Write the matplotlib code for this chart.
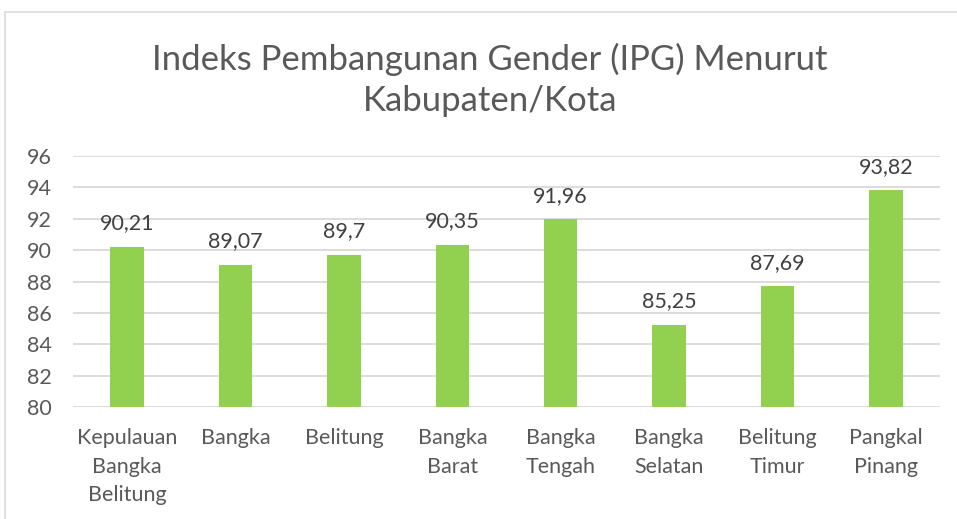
import matplotlib.pyplot as plt
from matplotlib.patches import Rectangle

# Data
categories = ["Kepulauan\nBangka\nBelitung", "Bangka", "Belitung", "Bangka\nBarat",
              "Bangka\nTengah", "Bangka\nSelatan", "Belitung\nTimur", "Pangkal\nPinang"]
values = [90.21, 89.07, 89.70, 90.35, 91.96, 85.25, 87.69, 93.82]
value_labels = ["90,21", "89,07", "89,7", "90,35", "91,96", "85,25", "87,69", "93,82"]
y_ticks = [80, 82, 84, 86, 88, 90, 92, 94, 96]

plt.rcParams['font.family'] = ['Lato', 'DejaVu Sans']

fig = plt.figure(figsize=(9.57, 5.19), dpi=100)
ax = fig.add_axes([73 / 957, 1 - 407 / 519, (940 - 73) / 957, (407 - 156) / 519])

# chart border (Excel style frame, cut off right and bottom)
fig.patches.append(Rectangle((5 / 957, -0.1), 1.1, (519 - 12) / 519 + 0.1,
                             transform=fig.transFigure, fill=False,
                             edgecolor='#d9d9d9', linewidth=1.2))

x = range(len(categories))
ax.bar(x, values, width=0.31, color='#92d050', zorder=3)

for xi, v, lab in zip(x, values, value_labels):
    ax.text(xi, v + 0.85, lab, ha='center', va='bottom', fontsize=15.5, color='#404040')

ax.set_ylim(80, 96)
ax.set_xlim(-0.5, len(categories) - 0.5)
ax.set_yticks(y_ticks)
ax.set_xticks(list(x))
ax.set_xticklabels(categories, fontsize=15.5, color='#595959', linespacing=1.55)
ax.tick_params(axis='y', labelsize=15.5, labelcolor='#595959', length=0, pad=15)
ax.tick_params(axis='x', length=0, pad=15)
ax.grid(axis='y', color='#d9d9d9', linewidth=1.3, zorder=0)
for s in ax.spines.values():
    s.set_visible(False)

fig.text(490 / 957, 1 - 80 / 519, "Indeks Pembangunan Gender (IPG) Menurut\nKabupaten/Kota",
         ha='center', va='center', fontsize=25, color='#595959', linespacing=1.35)

fig.savefig('out.png', dpi=100)
